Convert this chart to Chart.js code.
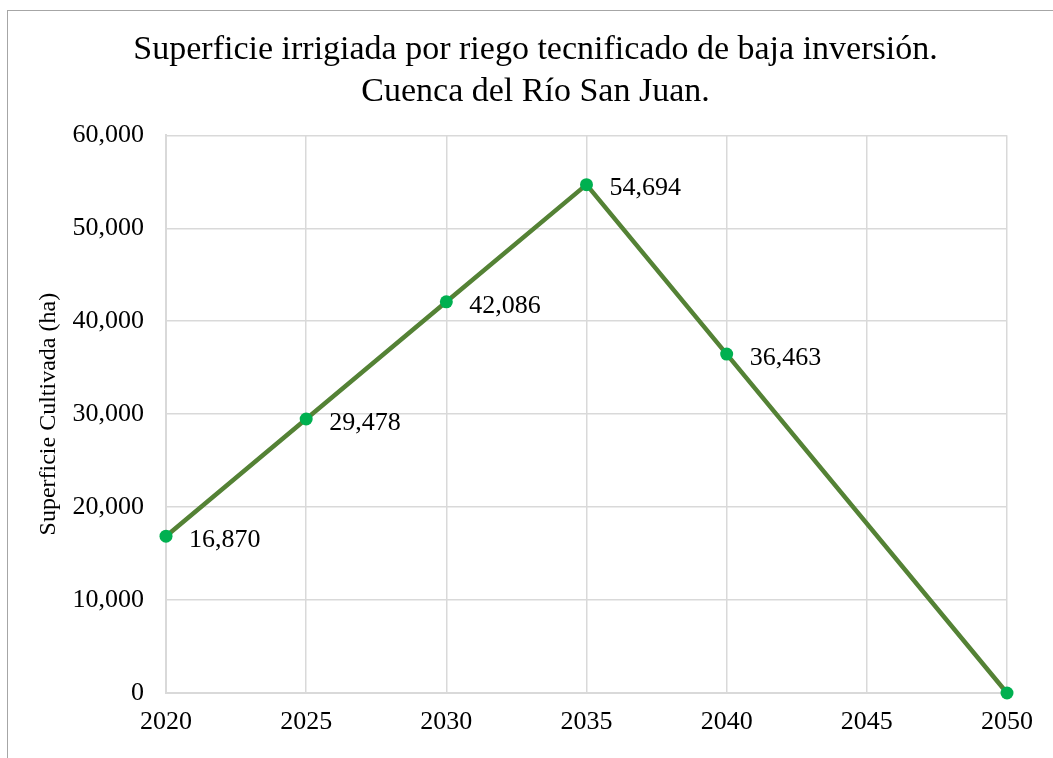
<!DOCTYPE html>
<html>
<head>
<meta charset="utf-8">
<script src="https://cdn.jsdelivr.net/npm/chart.js@4.4.1/dist/chart.umd.min.js"></script>
<style>
  html, body { margin: 0; padding: 0; background: #fff; overflow: hidden; }
  .frame { position: absolute; left: 7px; top: 10px; width: 1200px; height: 900px; border: 1px solid #a6a6a6; }
  .wrap { position: absolute; left: 0; top: 0; width: 1053px; height: 758px; }
</style>
</head>
<body>
<div class="frame"></div>
<div class="wrap"><canvas id="c"></canvas></div>
<script>
const years = [2020, 2025, 2030, 2035, 2040, 2050];
const surface = [16870, 29478, 42086, 54694, 36463, 0];
const titleLines = ['Superficie irrigiada por riego tecnificado de baja inversión.', 'Cuenca del Río San Juan.'];
const yTitle = 'Superficie Cultivada (ha)';

const serif = '"Liberation Serif", "Times New Roman", serif';
const fmt = v => v.toLocaleString('en-US');

// value labels to the right of each point (skip the zero at 2050)
const pointLabels = {
  id: 'pointLabels',
  afterLayout(chart) {
    // center the title over the whole frame rather than the padded box
    if (chart.titleBlock) { chart.titleBlock.left += 30; }
  },
  afterDatasetsDraw(chart) {
    const ctx = chart.ctx;
    const meta = chart.getDatasetMeta(0);
    ctx.save();
    ctx.font = `26px ${serif}`;
    ctx.fillStyle = '#000';
    ctx.textAlign = 'left'; ctx.textBaseline = 'middle';
    meta.data.forEach((pt, i) => {
      if (surface[i] === 0) return;
      ctx.fillText(fmt(surface[i]), pt.x + 23, pt.y + 4);
    });
    ctx.restore();
  }
};

new Chart(document.getElementById('c'), {
  type: 'line',
  data: {
    datasets: [{
      data: years.map((y, i) => ({ x: y, y: surface[i] })),
      borderColor: '#548235', borderWidth: 4.5,
      pointBackgroundColor: '#00b050', pointBorderColor: '#00b050',
      pointRadius: 6.5, pointBorderWidth: 0, tension: 0, clip: false,
    }],
  },
  options: {
    responsive: true, maintainAspectRatio: false, animation: false,
    layout: { padding: { left: 34, right: 46, top: 0, bottom: 6 } },
    plugins: {
      legend: { display: false },
      tooltip: { enabled: false },
      title: {
        display: true, text: titleLines, color: '#000',
        font: { family: serif, size: 34, weight: 'normal', lineHeight: 1.24 },
        padding: { top: 29, bottom: 22 },
      },
    },
    scales: {
      x: {
        type: 'linear', min: 2020, max: 2050,
        ticks: { stepSize: 5, color: '#000', font: { family: serif, size: 26 }, padding: 14, callback: v => String(v) },
        grid: { color: '#d9d9d9', lineWidth: 1.5, drawTicks: false },
        border: { color: '#d9d9d9', width: 2 },
        afterFit: s => { s.height = 59; },
      },
      y: {
        min: 0, max: 60000,
        ticks: { stepSize: 10000, color: '#000', font: { family: serif, size: 26 }, padding: 22, callback: v => fmt(v) },
        grid: { color: '#d9d9d9', lineWidth: 1.5, drawTicks: false },
        border: { color: '#d9d9d9', width: 2 },
        title: { display: true, text: yTitle, color: '#000', font: { family: serif, size: 24 }, padding: 0 },
        afterFit: s => { s.width = 132; },
      },
    },
  },
  plugins: [pointLabels],
});
</script>
</body>
</html>
